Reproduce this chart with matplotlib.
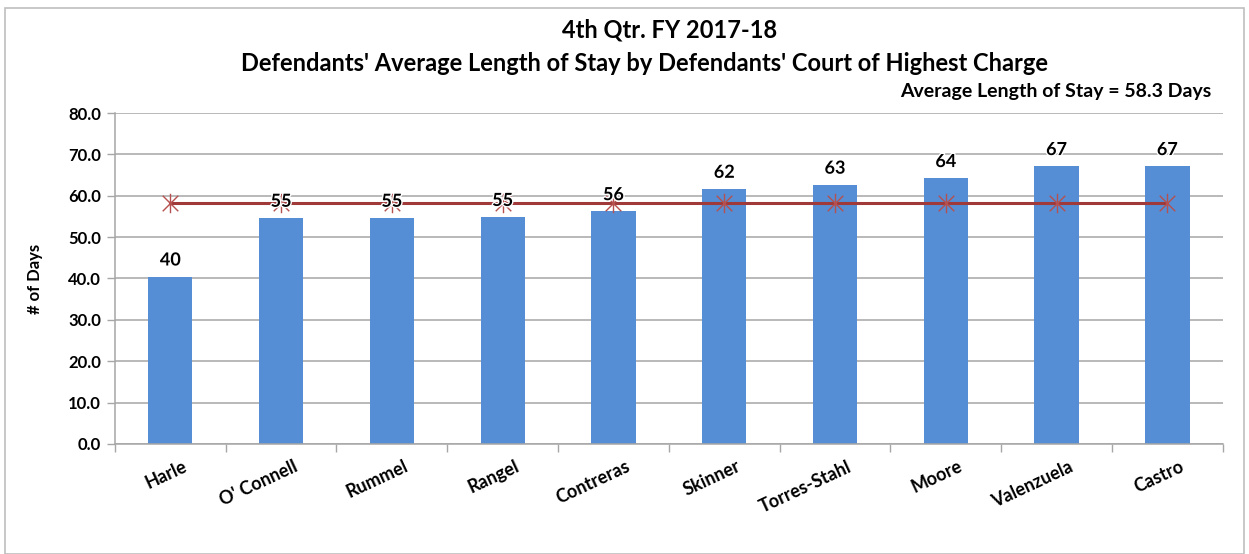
import matplotlib
matplotlib.use("Agg")
import matplotlib.pyplot as plt
from matplotlib.patches import Rectangle
from matplotlib.path import Path
import matplotlib.patheffects as pe
import numpy as np

categories = ["Harle", "O' Connell", "Rummel", "Rangel", "Contreras",
              "Skinner", "Torres-Stahl", "Moore", "Valenzuela", "Castro"]
values = [40.4, 54.6, 54.6, 54.8, 56.2, 61.6, 62.6, 64.2, 67.1, 67.1]
labels = ["40", "55", "55", "55", "56", "62", "63", "64", "67", "67"]
average = 58.3
title1 = "4th Qtr. FY 2017-18"
title2 = "Defendants' Average Length of Stay by Defendants' Court of Highest Charge"
subtitle = "Average Length of Stay = 58.3 Days"
yticks = [0, 10, 20, 30, 40, 50, 60, 70, 80]

plt.rcParams['font.family'] = ['Lato', 'DejaVu Sans']

# Excel-style asterisk: vertical stroke plus an X
ast = Path([(0, -1), (0, 1), (-0.8, -0.8), (0.8, 0.8), (-0.8, 0.8), (0.8, -0.8)],
           [Path.MOVETO, Path.LINETO, Path.MOVETO, Path.LINETO, Path.MOVETO, Path.LINETO])

fig = plt.figure(figsize=(12.49, 5.54), dpi=100)
fig.patches.append(Rectangle((0.004, 0.0), 0.992, 0.985, transform=fig.transFigure,
                             fill=False, edgecolor='#bfbfbf', linewidth=1.2))
ax = fig.add_axes([0.092, 0.1986, 0.887, 0.5974])

x = np.arange(len(categories))
ax.bar(x, values, width=0.4, color='#558ed5', zorder=2)
avg = [average] * len(categories)
ax.plot(x, avg, color='#a0393a', linewidth=2.2, zorder=3,
        marker=ast, markersize=14, markerfacecolor='none',
        markeredgecolor='#b5504f', markeredgewidth=1.0)

for xi, v, lab in zip(x, values, labels):
    ax.annotate(lab, (xi, v), xytext=(0, 6), textcoords='offset points',
                ha='center', va='bottom', fontsize=13, fontweight='bold', zorder=4,
                path_effects=[pe.withStroke(linewidth=2, foreground='white')])

ax.set_xlim(-0.5, len(categories) - 0.5)
ax.set_ylim(0, 80)
ax.set_yticks(yticks)
ax.set_yticklabels([f"{t:.1f}" for t in yticks], fontsize=12, fontweight='bold')
ax.yaxis.grid(True, color='#a6a6a6', linewidth=1.1, zorder=0)
ax.set_axisbelow(True)

ax.set_xticks(x)
ax.set_xticklabels(categories, rotation=25, ha='right', rotation_mode='anchor',
                   fontsize=13, fontweight='bold')
ax.tick_params(axis='x', which='major', length=0, pad=10)
ax.set_xticks(np.arange(-0.5, len(categories), 1.0), minor=True)
ax.tick_params(axis='x', which='minor', length=6, color='#a6a6a6', width=1)
ax.tick_params(axis='y', length=6, color='#a6a6a6', width=1, pad=4)
for lbl in ax.get_xticklabels():
    lbl.set_transform(lbl.get_transform() + matplotlib.transforms.ScaledTranslation(0.12, 0, fig.dpi_scale_trans))

for s in ['top', 'right']:
    ax.spines[s].set_visible(False)
for s in ['left', 'bottom']:
    ax.spines[s].set_color('#a6a6a6')
    ax.spines[s].set_linewidth(1.1)

ax.set_ylabel("# of Days", fontsize=12, fontweight='bold', labelpad=18)

fig.text(0.536, 0.945, title1, ha='center', va='center', fontsize=17, fontweight='bold')
fig.text(0.516, 0.886, title2, ha='center', va='center', fontsize=17, fontweight='bold')
fig.text(0.970, 0.834, subtitle, ha='right', va='center', fontsize=14, fontweight='bold')

fig.savefig("out.png", dpi=100)
